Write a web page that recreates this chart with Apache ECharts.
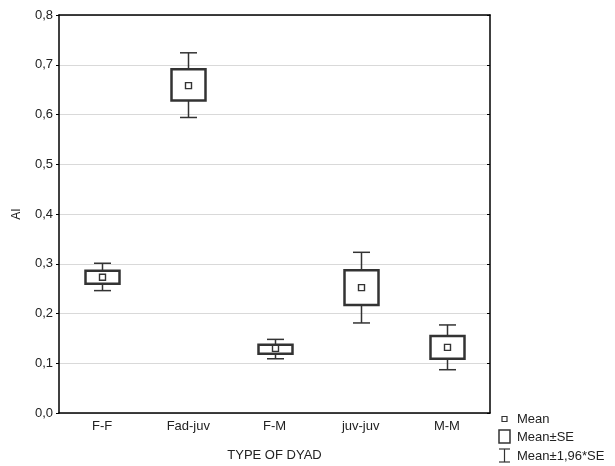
<!DOCTYPE html>
<html>
<head>
<meta charset="utf-8">
<script src="https://cdn.jsdelivr.net/npm/echarts@6/dist/echarts.min.js"></script>
<style>
  html, body { margin: 0; padding: 0; background: #fff; }
  #chart { width: 615px; height: 466px; }
</style>
</head>
<body>
<div id="chart"></div>
<script>
// values
const dyads = ['F-F', 'Fad-juv', 'F-M', 'juv-juv', 'M-M'];
const means = [0.273, 0.658, 0.130, 0.252, 0.132];
const seLow = [0.260, 0.628, 0.119, 0.217, 0.109];
const seHigh = [0.286, 0.691, 0.137, 0.287, 0.155];
const ciLow = [0.246, 0.594, 0.109, 0.181, 0.087];
const ciHigh = [0.301, 0.724, 0.148, 0.323, 0.177];
const yTicks = ['0,0', '0,1', '0,2', '0,3', '0,4', '0,5', '0,6', '0,7', '0,8'];

const font = '"Liberation Sans", Arial, sans-serif';
const ink = '#333';

const chart = echarts.init(document.getElementById('chart'));

const boxData = dyads.map((d, i) => [i, ciLow[i], seLow[i], means[i], seHigh[i], ciHigh[i]]);

function renderBox(params, api) {
    const x = api.value(0);
    const pLo = api.coord([x, api.value(1)]);
    const pSeLo = api.coord([x, api.value(2)]);
    const pMean = api.coord([x, api.value(3)]);
    const pSeHi = api.coord([x, api.value(4)]);
    const pHi = api.coord([x, api.value(5)]);
    const cx = Math.round(pMean[0]) + 0.5;
    const bw = 34, cw = 17, mw = 6;
    const lineStyle = { stroke: ink, lineWidth: 1.5, fill: null };
    return {
        type: 'group',
        children: [
            { type: 'line', shape: { x1: cx, y1: pHi[1], x2: cx, y2: pSeHi[1] }, style: lineStyle },
            { type: 'line', shape: { x1: cx, y1: pSeLo[1], x2: cx, y2: pLo[1] }, style: lineStyle },
            { type: 'line', shape: { x1: cx - cw / 2, y1: pHi[1], x2: cx + cw / 2, y2: pHi[1] }, style: lineStyle },
            { type: 'line', shape: { x1: cx - cw / 2, y1: pLo[1], x2: cx + cw / 2, y2: pLo[1] }, style: lineStyle },
            {
                type: 'rect',
                shape: { x: cx - bw / 2, y: pSeHi[1], width: bw, height: pSeLo[1] - pSeHi[1] },
                style: { stroke: ink, lineWidth: 2.5, fill: '#fff' }
            },
            {
                type: 'rect',
                shape: { x: cx - mw / 2, y: pMean[1] - mw / 2, width: mw, height: mw },
                style: { stroke: ink, lineWidth: 1.4, fill: '#fff' }
            }
        ]
    };
}

const legendText = { fill: '#222', fontSize: 13, fontFamily: font, verticalAlign: 'middle' };

const option = {
    animation: false,
    backgroundColor: '#fff',
    textStyle: { fontFamily: font },
    grid: { left: 59, right: 125, top: 15, bottom: 53, containLabel: false, outerBoundsMode: 'none' },
    xAxis: [
        {
            type: 'category',
            data: dyads,
            name: 'TYPE OF DYAD',
            nameLocation: 'middle',
            nameGap: 36,
            nameTextStyle: { color: '#222', fontSize: 13, fontFamily: font },
            axisLine: { onZero: false, lineStyle: { color: '#000', width: 1.5 } },
            axisTick: { inside: true, length: 3, alignWithLabel: true, lineStyle: { color: '#000' } },
            axisLabel: { color: '#222', fontSize: 13, margin: 7 }
        },
        {
            type: 'category',
            data: dyads,
            position: 'top',
            axisLine: { onZero: false, lineStyle: { color: '#000', width: 1.5 } },
            axisTick: { inside: true, length: 3, alignWithLabel: true, lineStyle: { color: '#000' } },
            axisLabel: { show: false }
        }
    ],
    yAxis: [
        {
            type: 'value',
            min: 0,
            max: 0.8,
            interval: 0.1,
            name: 'AI',
            nameLocation: 'middle',
            nameRotate: 90,
            nameGap: 36,
            nameTextStyle: { color: '#222', fontSize: 12, fontFamily: font },
            axisLine: { show: true, onZero: false, lineStyle: { color: '#000', width: 1.5 } },
            axisTick: { show: true, length: 3, lineStyle: { color: '#000' } },
            axisLabel: {
                color: '#222',
                fontSize: 13,
                margin: 6,
                formatter: (v) => yTicks[Math.round(v * 10)]
            },
            splitLine: { lineStyle: { color: '#d9d9d9', width: 1 } }
        },
        {
            type: 'value',
            min: 0,
            max: 0.8,
            interval: 0.1,
            position: 'right',
            axisLine: { show: true, onZero: false, lineStyle: { color: '#000', width: 1.5 } },
            axisTick: { show: true, inside: true, length: 3, lineStyle: { color: '#000' } },
            axisLabel: { show: false },
            splitLine: { show: false }
        }
    ],
    series: [
        {
            type: 'custom',
            name: 'AI',
            renderItem: renderBox,
            encode: { x: 0, y: [1, 2, 3, 4, 5] },
            data: boxData,
            z: 10
        }
    ],
    graphic: [
        { type: 'rect', shape: { x: 502, y: 416.5, width: 5, height: 5 }, style: { stroke: ink, lineWidth: 1.2, fill: '#fff' } },
        { type: 'text', x: 517, y: 419, style: Object.assign({ text: 'Mean' }, legendText) },
        { type: 'rect', shape: { x: 499, y: 430, width: 11, height: 13 }, style: { stroke: ink, lineWidth: 1.5, fill: '#fff' } },
        { type: 'text', x: 517, y: 437, style: Object.assign({ text: 'Mean±SE' }, legendText) },
        { type: 'line', shape: { x1: 504.5, y1: 449, x2: 504.5, y2: 462 }, style: { stroke: ink, lineWidth: 1.2 } },
        { type: 'line', shape: { x1: 499, y1: 449, x2: 510, y2: 449 }, style: { stroke: ink, lineWidth: 1.2 } },
        { type: 'line', shape: { x1: 499, y1: 462, x2: 510, y2: 462 }, style: { stroke: ink, lineWidth: 1.2 } },
        { type: 'text', x: 517, y: 456, style: Object.assign({ text: 'Mean±1,96*SE' }, legendText) }
    ]
};

chart.setOption(option);
</script>
</body>
</html>
